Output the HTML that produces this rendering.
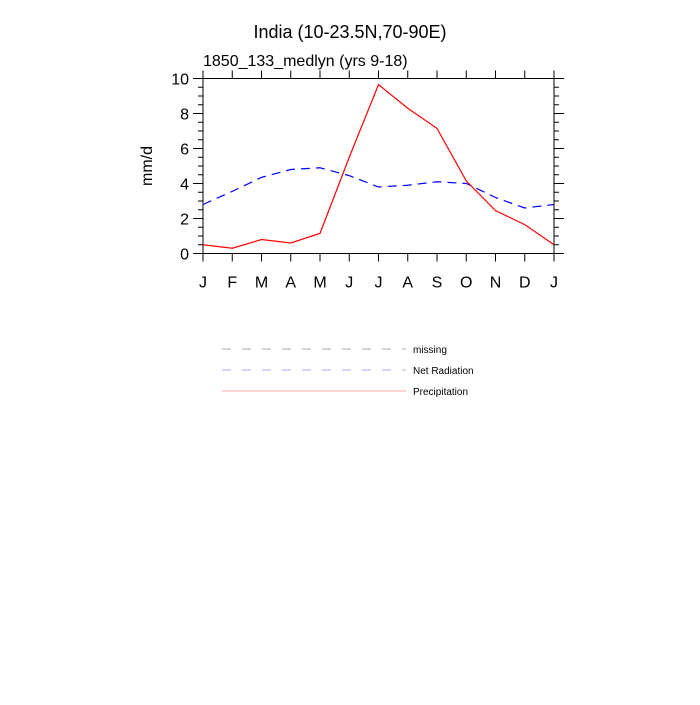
<!DOCTYPE html>
<html><head><meta charset="utf-8"><style>
body{margin:0;background:#fff}
svg{font-family:"Liberation Sans",sans-serif}
</style></head><body>
<svg width="700" height="700">
<rect width="700" height="700" fill="#fff"/>
<text x="350" y="38" font-size="18" text-anchor="middle">India (10-23.5N,70-90E)</text>
<text x="203" y="66" font-size="16">1850_133_medlyn (yrs 9-18)</text>
<text transform="translate(152,166) rotate(-90)" font-size="16" text-anchor="middle">mm/d</text>
<g id="axes"></g>
<g id="series"></g>
<g>
<line x1="222" y1="349" x2="406" y2="349" stroke="#aaa" stroke-dasharray="9,11"/>
<text x="413" y="353" font-size="10">missing</text>
<line x1="222" y1="370" x2="406" y2="370" stroke="#aaaaff" stroke-dasharray="9,11"/>
<text x="413" y="374" font-size="10">Net Radiation</text>
<line x1="222" y1="391" x2="406" y2="391" stroke="#ffaaaa"/>
<text x="413" y="395" font-size="10">Precipitation</text>
</g>
</svg>
<script>
const months=["J","F","M","A","M","J","J","A","S","O","N","D","J"];
const precip=[0.5,0.3,0.8,0.6,1.15,5.5,9.65,8.3,7.15,4.15,2.45,1.65,0.5];
const netRad=[2.8,3.55,4.35,4.8,4.9,4.45,3.8,3.9,4.1,4.0,3.2,2.6,2.8];
const yTicks=[0,2,4,6,8,10];
const L=203,R=554,T=78.5,B=253.5,ymax=10;
const xs=i=>L+(R-L)*i/(months.length-1);
const ys=v=>B-(B-T)*v/ymax;
const NS="http://www.w3.org/2000/svg";
const ax=document.getElementById('axes'),se=document.getElementById('series');
function mk(tag,attrs,parent){const e=document.createElementNS(NS,tag);for(const k in attrs)e.setAttribute(k,attrs[k]);parent.appendChild(e);return e;}
const fr=mk('rect',{x:L,y:T,width:R-L,height:B-T,fill:'none',stroke:'#000','stroke-width':1},ax);


for(let v=0;v<=ymax+1e-9;v+=0.5){const maj=Math.abs(v%2)<1e-9;const len=maj?10:5;const y=ys(v);
const a=mk('line',{x1:L-len,y1:y,x2:L,y2:y,stroke:'#000'},ax);


const b=mk('line',{x1:R,y1:y,x2:R+len,y2:y,stroke:'#000'},ax);

}
yTicks.forEach(v=>{const t=mk('text',{x:L-14,y:ys(v)+6,'font-size':16,'text-anchor':'end'},ax);t.textContent=v;

});
months.forEach((m,i)=>{const x=xs(i);
const a=mk('line',{x1:x,y1:B,x2:x,y2:B+8,stroke:'#000'},ax);


const b=mk('line',{x1:x,y1:T-8,x2:x,y2:T,stroke:'#000'},ax);


const t=mk('text',{x:x,y:B+34,'font-size':16,'text-anchor':'middle'},ax);t.textContent=m;

});
const p1=mk('polyline',{points:netRad.map((v,i)=>xs(i)+','+ys(v)).join(' '),fill:'none',stroke:'#0000ff','stroke-dasharray':'9,6','stroke-width':1.2},se);


const p2=mk('polyline',{points:precip.map((v,i)=>xs(i)+','+ys(v)).join(' '),fill:'none',stroke:'#ff0000','stroke-width':1.2},se);


</script>
</body></html>
